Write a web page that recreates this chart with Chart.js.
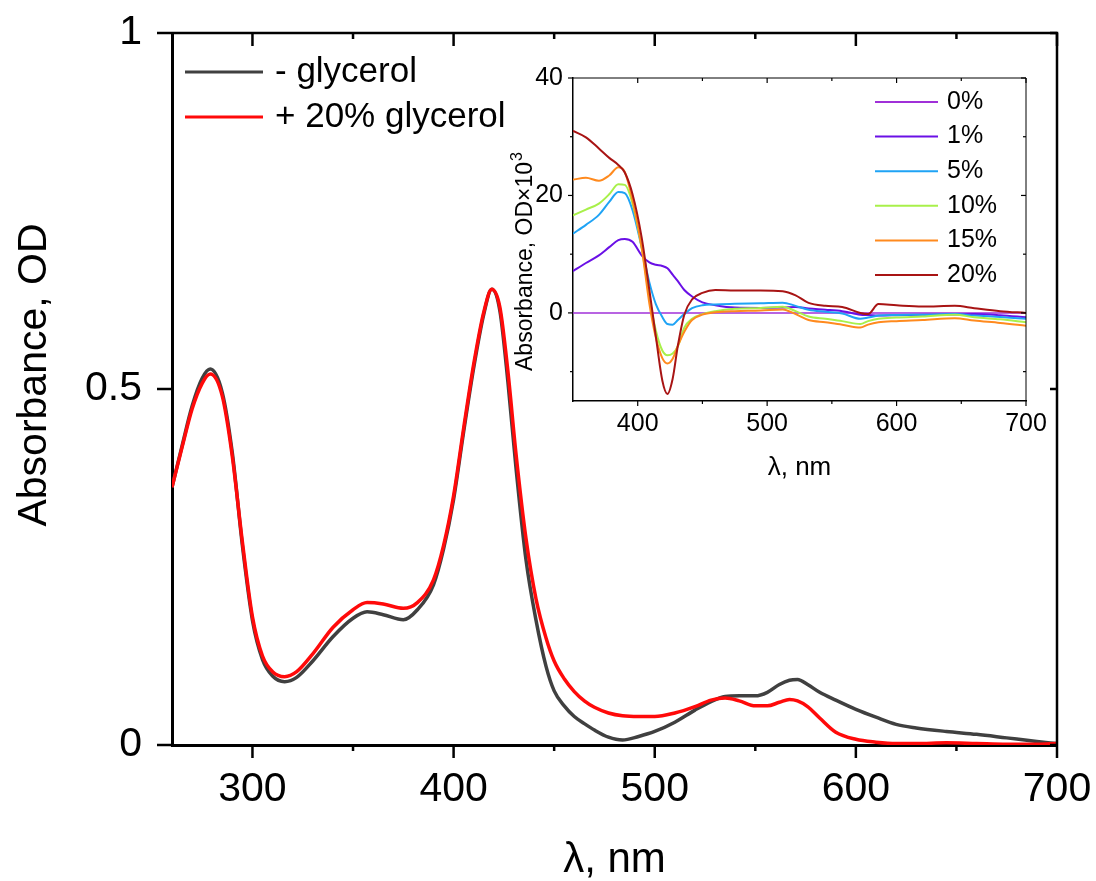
<!DOCTYPE html>
<html>
<head>
<meta charset="utf-8">
<script src="https://cdn.jsdelivr.net/npm/chart.js@4/dist/chart.umd.min.js"></script>
<style>
  html, body { margin: 0; padding: 0; background: #fff; }
  #wrap { position: relative; width: 1096px; height: 881px; }
  #mainCanvas { position: absolute; left: 0; top: 0; }
  #insetCanvas { position: absolute; left: 480px; top: 40px; }
</style>
</head>
<body>
<div id="wrap">
  <canvas id="mainCanvas" width="1096" height="881"></canvas>
  <canvas id="insetCanvas" width="580" height="450"></canvas>
</div>
<script>
// main spectra
const wavelengths = [260, 265, 270, 275, 279, 285, 290, 295, 300, 305, 310, 316, 322, 330, 340, 350, 357, 365, 375, 382,
  390, 395, 400, 405, 410, 415, 419, 423, 427, 431, 436, 441, 446, 450, 455, 460, 465, 470, 477, 484,
  492, 500, 510, 520, 528, 535, 542, 550, 556, 562, 567, 571, 576, 582, 590, 600, 610, 620, 630, 645,
  660, 675, 690, 700];
const noGlycerol = [0.362, 0.42, 0.476, 0.515, 0.528, 0.495, 0.41, 0.28, 0.175, 0.12, 0.097, 0.089, 0.095, 0.118, 0.152, 0.178, 0.187, 0.183, 0.176, 0.19,
  0.225, 0.275, 0.345, 0.44, 0.53, 0.605, 0.64, 0.61, 0.51, 0.39, 0.26, 0.175, 0.11, 0.076, 0.055, 0.04, 0.03, 0.021, 0.011, 0.007,
  0.012, 0.019, 0.032, 0.049, 0.061, 0.068, 0.069, 0.069, 0.074, 0.085, 0.091, 0.092, 0.085, 0.074, 0.063, 0.05, 0.039, 0.029, 0.024, 0.019,
  0.015, 0.01, 0.005, 0.002];
const withGlycerol = [0.362, 0.418, 0.472, 0.508, 0.521, 0.49, 0.405, 0.285, 0.18, 0.125, 0.103, 0.096, 0.103, 0.128, 0.165, 0.19, 0.2, 0.198, 0.192, 0.2,
  0.232, 0.28, 0.35, 0.445, 0.535, 0.608, 0.64, 0.615, 0.525, 0.41, 0.29, 0.205, 0.15, 0.118, 0.093, 0.075, 0.062, 0.053, 0.045, 0.041,
  0.04, 0.04, 0.045, 0.054, 0.063, 0.066, 0.062, 0.055, 0.055, 0.06, 0.064, 0.062, 0.054, 0.038, 0.018, 0.008, 0.004, 0.002, 0.002, 0.003,
  0.002, 0.001, 0.001, 0.002];
const mainXMajor = [300, 400, 500, 600, 700];
const mainXMinor = [350, 450, 550, 650];
const mainYMajor = [0, 0.5, 1];

// inset: difference spectra, OD x 10^3
const insetNm = [350, 360, 370, 378, 385, 390, 396, 403, 409, 414, 419, 423, 427, 431, 436, 442, 450, 460, 475, 495,
  512, 522, 532, 545, 558, 572, 578, 586, 600, 620, 645, 660, 680, 700];
const insetLabels = ['0%', '1%', '5%', '10%', '15%', '20%'];
const insetColors = ['#a030d8', '#6a10e6', '#1fa3f5', '#a8f04a', '#ff8a1e', '#a81414'];
const g0 = insetNm.map(() => 0);
const g1 = [7.1, 8.5, 9.8, 11.2, 12.4, 12.6, 12.1, 9.8, 8.6, 8.2, 8.0, 7.6, 6.5, 5.4, 3.9, 2.8, 1.8, 1.3, 0.9, 0.85,
  0.9, 1.0, 0.75, 0.55, 0.3, -0.3, -0.35, -0.45, -0.4, -0.3, -0.25, -0.2, -0.4, -0.75];
const g5 = [13.5, 15.0, 16.7, 18.9, 20.6, 20.4, 17.5, 11.2, 5.2, 1.5, -0.7, -1.9, -2.0, -1.2, -0.2, 0.8, 1.3, 1.45, 1.55, 1.65,
  1.75, 1.2, 0.55, 0.2, -0.1, -1.0, -0.8, -0.45, -0.35, -0.3, -0.2, -0.45, -0.7, -1.0];
const g10 = [16.6, 17.6, 18.6, 20.2, 21.9, 21.8, 18.6, 11.2, 2.7, -3.0, -6.4, -7.2, -6.9, -5.7, -2.5, -1.0, -0.2, 0.3, 0.7, 0.85,
  1.05, 0.3, -0.6, -1.0, -1.4, -1.9, -1.4, -1.0, -0.8, -0.6, -0.3, -0.75, -1.1, -1.6];
const g15 = [22.7, 23.0, 22.5, 23.4, 24.8, 24.0, 19.2, 11.2, 1.6, -4.2, -7.7, -8.6, -7.8, -5.6, -3.2, -1.2, -0.3, 0.1, 0.3, 0.4,
  0.6, -0.2, -1.2, -1.6, -2.0, -2.5, -2.0, -1.6, -1.4, -1.2, -0.9, -1.3, -1.7, -2.2];
const g20 = [31.0, 29.9, 28.0, 26.4, 25.2, 23.9, 20.2, 12.9, 3.9, -4.0, -11.5, -13.8, -11.2, -5.6, -0.3, 2.3, 3.4, 3.9, 3.8, 3.8,
  3.7, 3.0, 1.7, 1.2, 1.0, 0.0, -0.2, 1.5, 1.3, 1.1, 1.2, 0.8, 0.3, 0.0];
const insetSeries = [g0, g1, g5, g10, g15, g20];
const insetXMajor = [400, 500, 600, 700];
const insetXMinor = [450, 550, 650];
const insetYMajor = [0, 20, 40];
const insetYMinor = [-10, 10, 30];

const FONT = '"Liberation Sans", Arial, sans-serif';

// box frame + Origin-like ticks (out on bottom/left, in on top/right)
const frameTicks = {
  id: 'frameTicks',
  afterDraw(chart, args, o) {
    const { ctx, chartArea: a } = chart;
    const xs = chart.scales.x, ys = chart.scales.y;
    const seg = (x1, y1, x2, y2) => { ctx.beginPath(); ctx.moveTo(x1, y1); ctx.lineTo(x2, y2); ctx.stroke(); };
    ctx.save();
    ctx.strokeStyle = '#000';
    ctx.lineWidth = o.frameWidth;
    ctx.beginPath();
    ctx.moveTo(a.left, a.top); ctx.lineTo(a.right, a.top); ctx.lineTo(a.right, a.bottom);
    ctx.stroke();
    ctx.lineWidth = o.tickWidth;
    o.xMajor.forEach(v => {
      const p = xs.getPixelForValue(v);
      seg(p, a.bottom, p, a.bottom + o.xOut[0]);
      seg(p, a.top, p, a.top + o.xIn[0]);
    });
    o.xMinor.forEach(v => {
      const p = xs.getPixelForValue(v);
      seg(p, a.bottom, p, a.bottom + o.xOut[1]);
      seg(p, a.top, p, a.top + o.xIn[1]);
    });
    o.yMajor.forEach(v => {
      const p = ys.getPixelForValue(v);
      seg(a.left - o.yOut[0], p, a.left, p);
      seg(a.right - o.yIn[0], p, a.right, p);
    });
    o.yMinor.forEach(v => {
      const p = ys.getPixelForValue(v);
      seg(a.left - o.yOut[1], p, a.left, p);
      seg(a.right - o.yIn[1], p, a.right, p);
    });
    ctx.restore();
  }
};

// legend drawn inside the plot, one row per dataset
const lineLegend = {
  id: 'lineLegend',
  afterDraw(chart, args, o) {
    const ctx = chart.ctx;
    ctx.save();
    ctx.font = o.size + 'px ' + FONT;
    ctx.textBaseline = 'middle';
    ctx.fillStyle = '#000';
    chart.data.datasets.forEach((ds, i) => {
      const y = o.y + i * o.gap;
      ctx.strokeStyle = ds.borderColor;
      ctx.lineWidth = o.lineWidth;
      ctx.beginPath(); ctx.moveTo(o.x, y); ctx.lineTo(o.x + o.len, y); ctx.stroke();
      ctx.fillText(ds.label, o.x + o.len + o.textGap, y);
    });
    ctx.restore();
  }
};

// rotated y title, with optional superscript
const sideTitle = {
  id: 'sideTitle',
  afterDraw(chart, args, o) {
    const ctx = chart.ctx;
    ctx.save();
    ctx.fillStyle = '#000';
    ctx.font = o.size + 'px ' + FONT;
    const w = ctx.measureText(o.text).width;
    let supW = 0;
    if (o.sup) {
      ctx.font = o.supSize + 'px ' + FONT;
      supW = ctx.measureText(o.sup).width;
    }
    ctx.translate(o.x, o.y);
    ctx.rotate(-Math.PI / 2);
    ctx.textBaseline = 'alphabetic';
    ctx.textAlign = 'left';
    const start = -(w + supW) / 2;
    ctx.font = o.size + 'px ' + FONT;
    ctx.fillText(o.text, start, 0);
    if (o.sup) {
      ctx.font = o.supSize + 'px ' + FONT;
      ctx.fillText(o.sup, start + w + 1, -o.size * 0.42);
    }
    ctx.restore();
  }
};

// keep tick-label overflow from pushing the plot area around
const noLabelPad = s => { s.paddingTop = 0; s.paddingBottom = 0; s.paddingLeft = 0; s.paddingRight = 0; };

const pts = (xs, ys) => xs.map((x, i) => ({ x, y: ys[i] }));

new Chart(document.getElementById('mainCanvas'), {
  type: 'line',
  data: {
    datasets: [
      { label: '- glycerol', data: pts(wavelengths, noGlycerol), borderColor: '#404040', borderWidth: 3.5,
        pointRadius: 0, cubicInterpolationMode: 'monotone', order: 1 },
      { label: '+ 20% glycerol', data: pts(wavelengths, withGlycerol), borderColor: '#ff0a0a', borderWidth: 3.5,
        pointRadius: 0, cubicInterpolationMode: 'monotone', order: 0 }
    ]
  },
  options: {
    responsive: false,
    animation: false,
    devicePixelRatio: 1,
    layout: { padding: { top: 33, right: 39, left: 0, bottom: 0 } },
    plugins: {
      legend: { display: false },
      tooltip: { enabled: false },
      frameTicks: { frameWidth: 2.5, tickWidth: 2.5, xMajor: mainXMajor, xMinor: mainXMinor, yMajor: mainYMajor, yMinor: [],
        xOut: [13, 6], xIn: [13, 6], yOut: [15, 7], yIn: [7, 4] },
      lineLegend: { x: 185, y: 72, gap: 45, len: 78, textGap: 12, lineWidth: 3, size: 35 },
      sideTitle: { text: 'Absorbance, OD', x: 46, y: 375, size: 41 }
    },
    scales: {
      x: {
        type: 'linear', min: 260, max: 700,
        afterBuildTicks: s => { s.ticks = mainXMajor.map(v => ({ value: v })); },
        afterFit: s => { s.height = 136; noLabelPad(s); },
        grid: { drawOnChartArea: false, drawTicks: false },
        border: { color: '#000', width: 3 },
        ticks: { padding: 20, color: '#000', font: { family: FONT, size: 41 } },
        title: { display: true, text: 'λ, nm', color: '#000', font: { family: FONT, size: 42, lineHeight: 1 }, padding: 0 }
      },
      y: {
        min: 0, max: 1,
        afterBuildTicks: s => { s.ticks = mainYMajor.map(v => ({ value: v })); },
        afterFit: s => { s.width = 172; noLabelPad(s); },
        grid: { drawOnChartArea: false, drawTicks: false },
        border: { color: '#000', width: 3 },
        ticks: { padding: 30, color: '#000', font: { family: FONT, size: 41 }, callback: v => String(v) }
      }
    }
  },
  plugins: [frameTicks, lineLegend, sideTitle]
});

new Chart(document.getElementById('insetCanvas'), {
  type: 'line',
  data: {
    datasets: insetSeries.map((vals, i) => ({
      label: insetLabels[i],
      data: pts(insetNm, vals),
      borderColor: insetColors[i],
      borderWidth: i === 0 ? 1.5 : 2,
      pointRadius: 0,
      cubicInterpolationMode: 'monotone',
      order: insetSeries.length - i
    }))
  },
  options: {
    responsive: false,
    animation: false,
    devicePixelRatio: 1,
    layout: { padding: { top: 38, right: 34, left: 0, bottom: 0 } },
    plugins: {
      legend: { display: false },
      tooltip: { enabled: false },
      frameTicks: { frameWidth: 1, tickWidth: 1.2, xMajor: insetXMajor, xMinor: insetXMinor, yMajor: insetYMajor, yMinor: insetYMinor,
        xOut: [5, 3], xIn: [5, 3], yOut: [5, 3], yIn: [5, 3] },
      lineLegend: { x: 395, y: 62, gap: 34.6, len: 63, textGap: 9, lineWidth: 2, size: 25 },
      sideTitle: { text: 'Absorbance, OD×10', sup: '3', supSize: 16, x: 52, y: 222, size: 23 }
    },
    scales: {
      x: {
        type: 'linear', min: 350, max: 700,
        afterBuildTicks: s => { s.ticks = insetXMajor.map(v => ({ value: v })); },
        afterFit: s => { s.height = 89; noLabelPad(s); },
        grid: { drawOnChartArea: false, drawTicks: false },
        border: { color: '#000', width: 1.5 },
        ticks: { padding: 8, color: '#000', font: { family: FONT, size: 25 } },
        title: { display: true, text: 'λ, nm', color: '#000', font: { family: FONT, size: 26, lineHeight: 1 }, padding: { top: 0, bottom: 9 } }
      },
      y: {
        min: -15, max: 40,
        afterBuildTicks: s => { s.ticks = insetYMajor.map(v => ({ value: v })); },
        afterFit: s => { s.width = 93; noLabelPad(s); },
        grid: { drawOnChartArea: false, drawTicks: false },
        border: { color: '#000', width: 1.5 },
        ticks: { padding: 10, color: '#000', font: { family: FONT, size: 25 } }
      }
    }
  },
  plugins: [frameTicks, lineLegend, sideTitle]
});
</script>
</body>
</html>
